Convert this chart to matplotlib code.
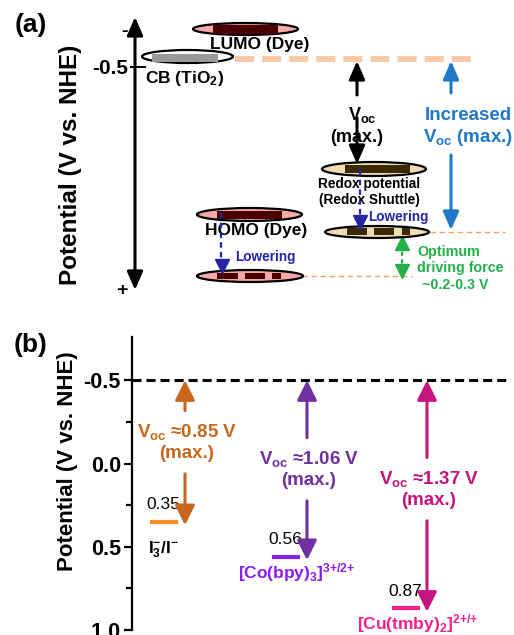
import matplotlib
matplotlib.use('Agg')
import matplotlib.pyplot as plt
from matplotlib.patches import Ellipse, Rectangle
from matplotlib.ticker import FixedLocator

plt.rcParams['font.family'] = ['Liberation Sans', 'DejaVu Sans']
plt.rcParams['font.weight'] = 'bold'
plt.rcParams['axes.labelweight'] = 'bold'
plt.rcParams['mathtext.fontset'] = 'custom'
plt.rcParams['mathtext.rm'] = 'Liberation Sans:bold'
plt.rcParams['mathtext.bf'] = 'Liberation Sans:bold'
plt.rcParams['mathtext.it'] = 'Liberation Sans:bold'
plt.rcParams['mathtext.default'] = 'regular'
plt.rcParams['axes.unicode_minus'] = False
plt.rcParams['lines.scale_dashes'] = False

# ---------------- data: panel (b) ----------------
couples = [r'I$_3^{-}$/I$^{-}$', r'[Co(bpy)$_3$]$^{3{+}/2{+}}$', r'[Cu(tmby)$_2$]$^{2{+}/{+}}$']
redox_potentials = [0.35, 0.56, 0.87]
voc_values = [0.85, 1.06, 1.37]
tio2_cb = -0.5
yticks_b = [-0.5, 0.0, 0.5, 1.0]
yminor_b = [-0.25, 0.25, 0.75]
ytick_labels_b = ['-0.5', '0.0', '0.5', '1.0']

# ---------------- data: panel (a) schematic ----------------
schematic_tick_label = '-0.5'
level_names = ['LUMO (Dye)', 'CB (TiO$_2$)', 'HOMO (Dye)', 'Redox potential\n(Redox Shuttle)']

W, H = 514, 635
fig = plt.figure(figsize=(W / 100, H / 100), dpi=100)

# ======== panel (a): schematic drawn in a pixel-like frame ========
ax_a = fig.add_axes([0, 0, 1, 1])
ax_a.set_xlim(0, W)
ax_a.set_ylim(H, 0)
ax_a.axis('off')

pink_fill = '#F5A8A8'
tan_fill = '#EEDDB2'
maroon = '#4A0000'
olive = '#3A2A04'
navy = '#2525A5'
blue = '#1F78C8'
green = '#22B04B'
peach = '#F9C8A6'
thin_orange = '#F2A36C'


def ellipse(cx, cy, w, h, fc):
    ax_a.add_patch(Ellipse((cx, cy), w, h, facecolor=fc, edgecolor='black', lw=1.6, zorder=3))


def rect(x0, x1, y0, y1, c):
    ax_a.add_patch(Rectangle((x0, y0), x1 - x0, y1 - y0, facecolor=c, edgecolor='none', zorder=4))


def arrow(ax, tip, tail, color, lw=2.2, style='-|>', hl=0.55, hw=0.24, ms=20):
    ax.annotate('', xy=tip, xytext=tail,
                arrowprops=dict(arrowstyle=f'{style},head_length={hl},head_width={hw}',
                                lw=lw, color=color, mutation_scale=ms,
                                shrinkA=0, shrinkB=0), zorder=5)

# potential axis
arrow(ax_a, (135, 17), (135, 290), 'black', lw=2.2, style='<|-|>')
ax_a.text(125, 32, '-', fontsize=14, ha='center', va='center')
ax_a.text(122, 290, '+', fontsize=14, ha='center', va='center')
ax_a.plot([131, 145], [67, 67], color='black', lw=1.5)
ax_a.text(128, 69, schematic_tick_label, fontsize=15, ha='right', va='center')
ax_a.text(70, 165, 'Potential (V vs. NHE)', fontsize=17.5, rotation=90, ha='center', va='center')
ax_a.text(31, 25, '(a)', fontsize=19, ha='center', va='center')
ax_a.text(31, 345, '(b)', fontsize=19, ha='center', va='center')

# thick peach dashed line at CB level
ax_a.plot([235, 477], [59, 59], color=peach, lw=4.3, dashes=(13.7, 5.8), solid_capstyle='butt',
          dash_capstyle='butt', zorder=2)

# LUMO
ellipse(245.5, 29, 105, 12, pink_fill)
rect(213, 278, 25, 34, maroon)
ax_a.text(260, 45, level_names[0], fontsize=12.5, ha='center', va='center', zorder=6)
# CB
ellipse(187.5, 56.5, 91, 13, 'white')
rect(152, 218, 54, 62, '#9A9A9A')
ax_a.text(145, 78, level_names[1], fontsize=12.5, ha='left', va='center')

# Redox top
ellipse(374, 169, 104, 14, tan_fill)
rect(345, 410, 165, 173, olive)
ax_a.text(369, 192, level_names[3], fontsize=9.8, ha='center', va='center', linespacing=1.15)
# Redox bottom
ellipse(377, 232, 104, 12, tan_fill)
for x0, x1 in [(347, 367), (374, 394), (402, 410)]:
    rect(x0, x1, 228, 235, olive)

# HOMO top
ellipse(249.5, 214.5, 105, 13, pink_fill)
rect(217, 282, 211, 219, maroon)
ax_a.text(256, 230, level_names[2], fontsize=12.5, ha='center', va='center', zorder=6)
# HOMO bottom
ellipse(250, 276, 106, 12, pink_fill)
for x0, x1 in [(217, 238), (245, 265), (272, 281)]:
    rect(x0, x1, 273, 279, maroon)

# thin orange dashed guides
ax_a.plot([430, 505], [232, 232], color=thin_orange, lw=1.0, dashes=(4, 2.5))
ax_a.plot([302, 412], [276, 276], color=thin_orange, lw=1.0, dashes=(4, 2.5))

# black Voc arrow
arrow(ax_a, (357, 61), (357, 95), 'black')
arrow(ax_a, (357, 164), (357, 118), 'black')
ax_a.text(362, 115, r'V$_{oc}$', fontsize=13, ha='center', va='center', zorder=4)
ax_a.text(357, 137, '(max.)', fontsize=13, ha='center', va='center', zorder=4)

# blue increased Voc arrow
arrow(ax_a, (451, 61), (451, 93), blue)
arrow(ax_a, (451, 230), (451, 155), blue)
ax_a.text(468, 115, 'Increased', fontsize=13.5, ha='center', va='center', color=blue)
ax_a.text(468, 137, r'V$_{oc}$ (max.)', fontsize=13.5, ha='center', va='center', color=blue)

# lowering arrows
ax_a.plot([360, 360], [170, 217], color=navy, lw=1.6, dashes=(4, 3), zorder=6)
ax_a.plot([360], [222], marker='v', color=navy, markersize=10, zorder=6)
ax_a.text(368, 217, 'Lowering', fontsize=9.8, ha='left', va='center', color=navy)
ax_a.plot([221, 221], [213, 262], color=navy, lw=1.6, dashes=(4, 3), zorder=6)
ax_a.plot([222], [266], marker='v', color=navy, markersize=10, zorder=6)
ax_a.text(235, 257, 'Lowering', fontsize=9.8, ha='left', va='center', color=navy)

# green optimum driving force
ax_a.plot([402, 402], [244, 270], color=green, lw=1.6, dashes=(3, 2.5))
ax_a.plot([402], [243], marker='^', color=green, markersize=10)
ax_a.plot([402], [271], marker='v', color=green, markersize=10)
ax_a.text(417, 252, 'Optimum', fontsize=10.3, ha='left', va='center', color=green)
ax_a.text(417, 268, 'driving force', fontsize=10.3, ha='left', va='center', color=green)
ax_a.text(422, 285, '~0.2-0.3 V', fontsize=10.3, ha='left', va='center', color=green)

# ======== panel (b): real potential axis ========
ax_b = fig.add_axes([132 / W, 1 - 630 / H, (510 - 132) / W, (630 - 337) / H])
ax_b.patch.set_alpha(0)
ax_b.set_ylim(1.0, -0.76)
ax_b.set_xlim(0, 378)
for s in ['top', 'right', 'bottom']:
    ax_b.spines[s].set_visible(False)
ax_b.spines['left'].set_linewidth(1.6)
ax_b.set_xticks([])
ax_b.yaxis.set_major_locator(FixedLocator(yticks_b))
ax_b.set_yticklabels(ytick_labels_b)
ax_b.yaxis.set_minor_locator(FixedLocator(yminor_b))
ax_b.tick_params(axis='y', which='major', length=6, width=1.6, labelsize=15.5, pad=2)
ax_b.tick_params(axis='y', which='minor', length=4, width=1.6)
ax_b.set_ylabel('Potential (V vs. NHE)', fontsize=16, fontweight='bold')
ax_b.yaxis.set_label_coords(-0.143, 0.577)

ax_b.axhline(tio2_cb, color='black', lw=2.2, dashes=(6.5, 3.6))

arrow_x = [53, 175, 295]
arrow_colors = ['#C8661E', '#7030A0', '#C4157F']
bar_colors = ['#FF8C1F', '#8A1CF5', '#F5208A']
label_colors = ['black', '#8A1CF5', '#F5208A']
text_center = [-0.128, 0.034, 0.154]
label_drop = [13, 3, 3]
label_dx = [-22, -10, -9]
half_gap = 0.19

for i in range(3):
    x = arrow_x[i]
    e = redox_potentials[i]
    ax_b.hlines(e, x - 35, x - 7, color=bar_colors[i], lw=3)
    arrow(ax_b, (x, tio2_cb), (x, text_center[i] - half_gap), arrow_colors[i], lw=2.2, hl=0.6, hw=0.3)
    arrow(ax_b, (x, e + 0.02), (x, text_center[i] + half_gap), arrow_colors[i], lw=2.2, hl=0.6, hw=0.3)
    ax_b.text(x + 2, text_center[i], f'V$_{{oc}}$ ≈{voc_values[i]:.2f} V\n(max.)', fontsize=13.5,
              ha='center', va='center', color=arrow_colors[i], linespacing=1.25)
    ax_b.annotate(f'{e:.2f}', xy=(x - 22, e), xytext=(0, 7), textcoords='offset points',
                  fontsize=12.5, fontweight='normal', ha='center', va='bottom')
    ax_b.annotate(couples[i], xy=(x + label_dx[i], e), xytext=(0, -label_drop[i]),
                  textcoords='offset points', fontsize=12.5, ha='center', va='top',
                  color=label_colors[i], annotation_clip=False)

fig.savefig('out.png', dpi=100)
